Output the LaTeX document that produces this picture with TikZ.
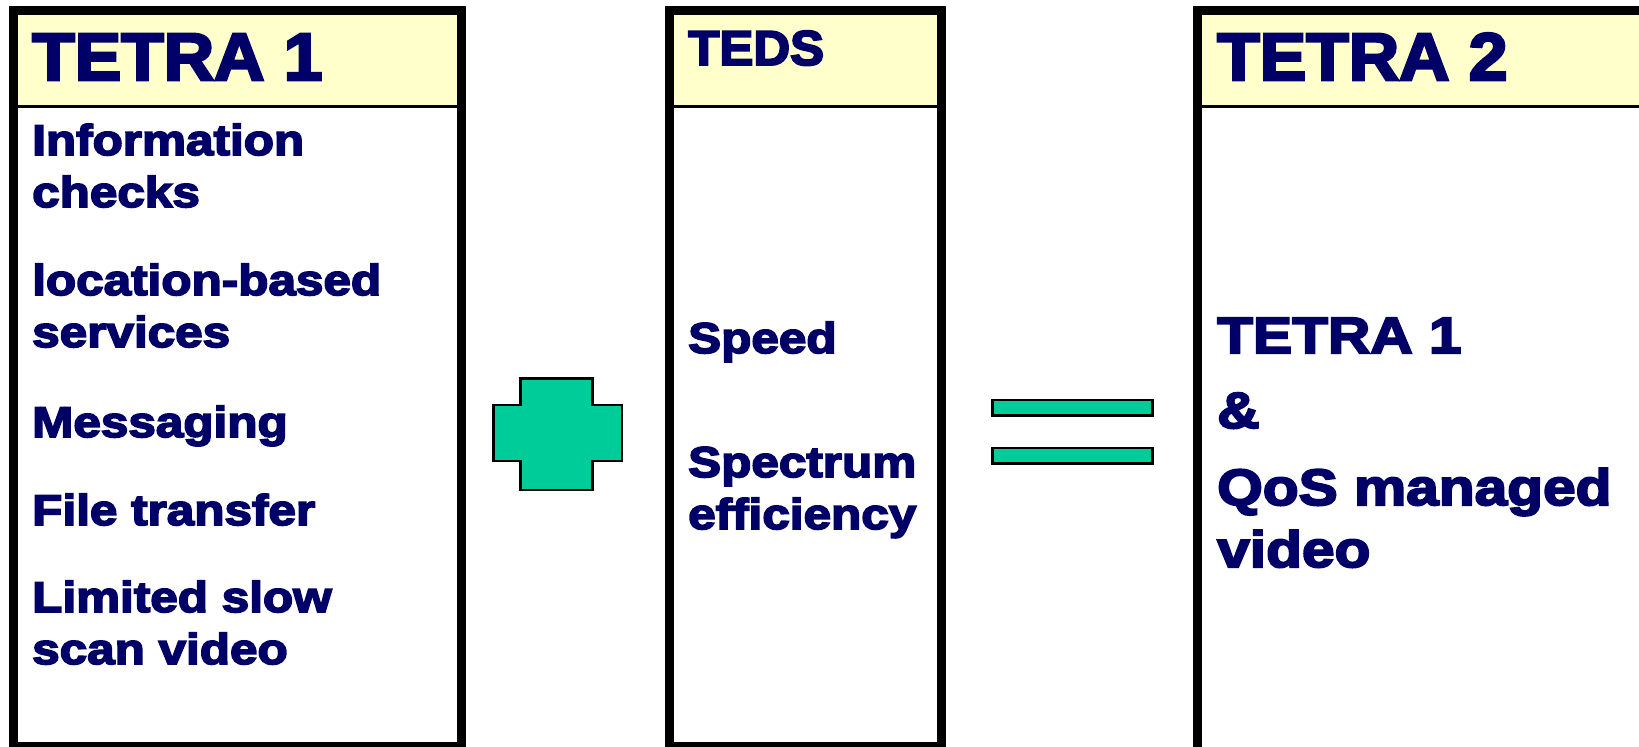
\documentclass[tikz,border=0pt]{standalone}
\usepackage{fontspec}
\setmainfont{Liberation Sans}[FakeStretch=1.15, FakeBold=4]
\newfontfamily\headfont{Liberation Sans}[FakeStretch=1.04, FakeBold=4]
\definecolor{navy}{HTML}{000066}
\definecolor{paleyellow}{HTML}{FFFFCC}
\definecolor{mint}{HTML}{00CC99}
\tikzset{
  frame/.style={line width=9pt},
  divider/.style={line width=3pt},
  sign/.style={fill=mint, draw=black, line width=2.5pt},
  title/.style={anchor=base west, inner sep=0pt, text=navy},
  item/.style={anchor=base west, inner sep=0pt, text=navy, align=left,
    font=\bfseries\fontsize{43}{52}\selectfont},
  bigitem/.style={item, font=\bfseries\fontsize{51}{62}\selectfont}
}
\begin{document}
\begin{tikzpicture}[x=1pt,y=-1pt]
    \useasboundingbox (0,0) rectangle (1639,747);
    % header strips
    \fill [paleyellow] (13.5,10.5) rectangle (461.5,106.5);
    \fill [paleyellow] (669.5,10.5) rectangle (941.5,106.5);
    \fill [paleyellow] (1197.5,10.5) rectangle (1680,106.5);
    % the three boxes
    \draw [frame] (13.5,10.5) rectangle (461.5,746.5);
    \draw [frame] (669.5,10.5) rectangle (941.5,746.5);
    \draw [frame] (1197.5,10.5) rectangle (1680,790);
    \draw [divider] (13.5,106.5) -- (461.5,106.5);
    \draw [divider] (669.5,106.5) -- (941.5,106.5);
    \draw [divider] (1197.5,106.5) -- (1680,106.5);
    % titles
    \node [title, font=\headfont\bfseries\fontsize{67}{67}\selectfont] (tetraone) at (32,80) {TETRA 1};
    \node [title, font=\headfont\bfseries\fontsize{49}{49}\selectfont] (teds) at (688,65) {TEDS};
    \node [title, font=\headfont\bfseries\fontsize{67}{67}\selectfont] (tetratwo) at (1217,80) {TETRA 2};
    % TETRA 1 services (base = last line)
    \node [item] (info) at (32,207) {Information\\checks};
    \node [item] (location) at (32,347) {location-based\\services};
    \node [item] (messaging) at (32,437) {Messaging};
    \node [item] (filexfer) at (32,525) {File transfer};
    \node [item] (slowscan) at (32,664) {Limited slow\\scan video};
    % TEDS gains
    \node [item] (speed) at (688,353) {Speed};
    \node [item] (spectrum) at (688,529) {Spectrum\\efficiency};
    % TETRA 2 result
    \node [bigitem] (sum) at (1217,353) {TETRA 1};
    \node [bigitem] (amp) at (1217,428) {\&};
    \node [bigitem] (qos) at (1217,567) {QoS managed\\video};
    % plus sign
    \draw [sign] (493.5,405) -- (520.5,405) -- (520.5,378.5) -- (592.5,378.5) -- (592.5,405)
        -- (622,405) -- (622,461) -- (592.5,461) -- (592.5,490) -- (520.5,490)
        -- (520.5,461) -- (493.5,461) -- cycle;
    % equals sign
    \draw [sign] (992.5,400) rectangle (1152.5,415.5);
    \draw [sign] (992.5,448) rectangle (1152.5,463.5);
\end{tikzpicture}
\end{document}
